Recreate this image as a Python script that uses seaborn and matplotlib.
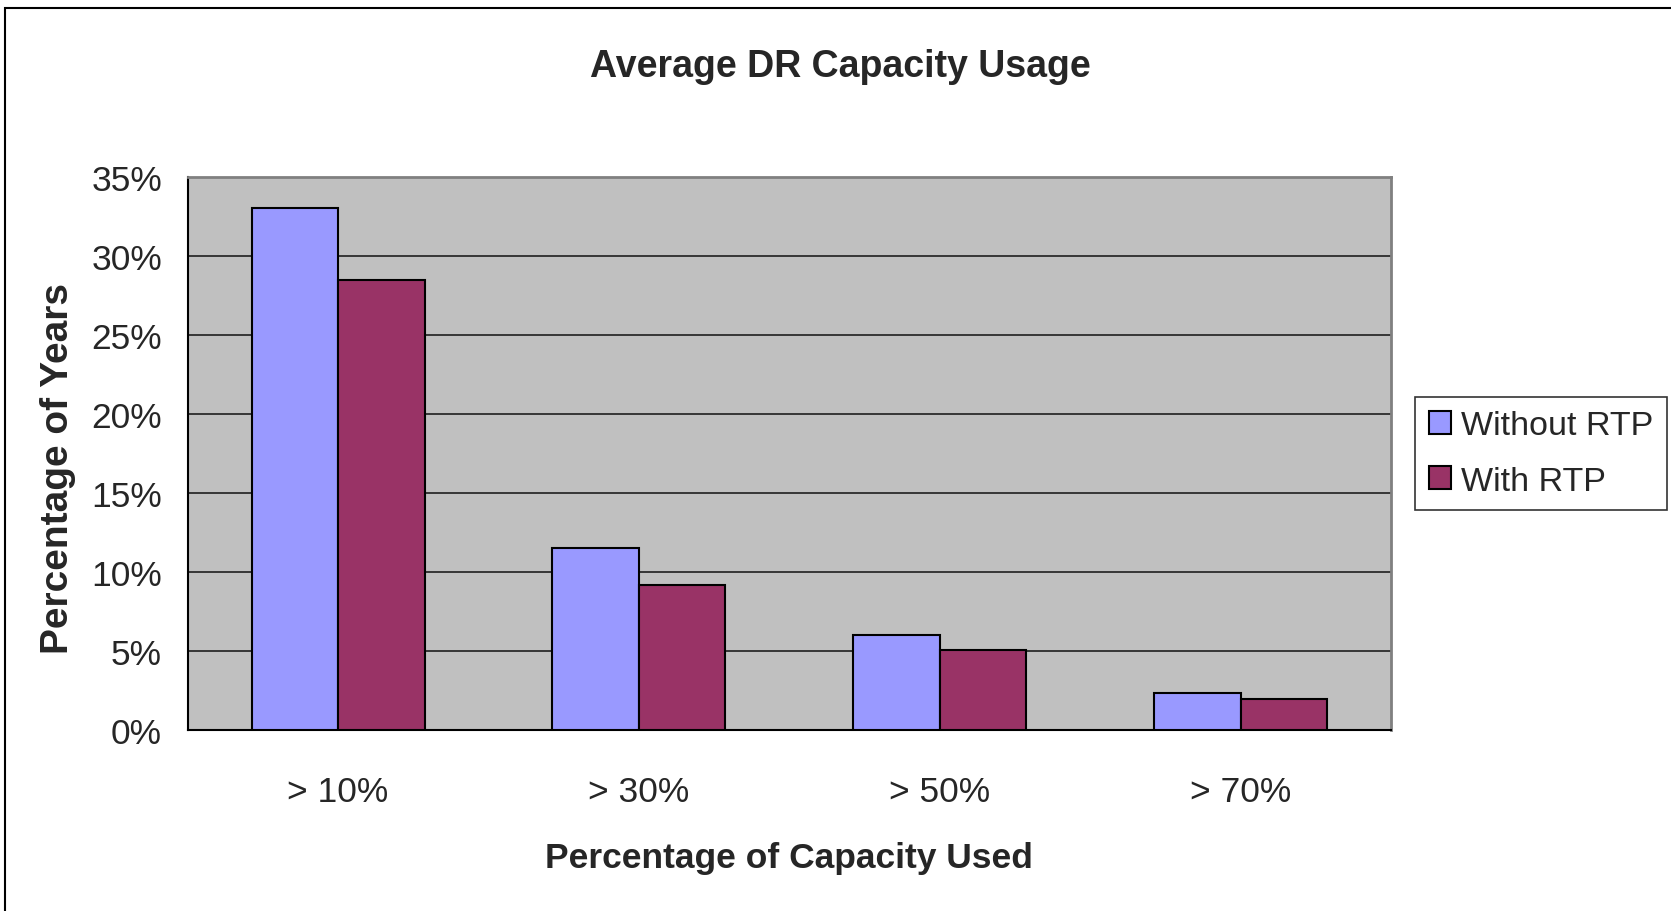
import pandas as pd
import matplotlib
matplotlib.use("Agg")
import matplotlib.pyplot as plt
import matplotlib.ticker as mticker
from matplotlib.patches import Rectangle
import seaborn as sns

# values (percent of years)
categories = ["> 10%", "> 30%", "> 50%", "> 70%"]
without_rtp = [33.0, 11.5, 6.0, 2.35]
with_rtp = [28.5, 9.2, 5.05, 1.95]
series_names = ["Without RTP", "With RTP"]
y_ticks = [0, 5, 10, 15, 20, 25, 30, 35]

df = pd.DataFrame({
    "category": categories * 2,
    "value": without_rtp + with_rtp,
    "series": [series_names[0]] * 4 + [series_names[1]] * 4,
})

sns.set_style("white")
plt.rcParams["font.family"] = ["Liberation Sans", "DejaVu Sans"]

fig = plt.figure(figsize=(16.71, 9.12), dpi=100)
ax = fig.add_axes([0.1123, 0.1984, 0.7201, 0.6066])

sns.barplot(data=df, x="category", y="value", hue="series", ax=ax,
            palette=["#9999FF", "#993366"], width=0.575,
            edgecolor="black", linewidth=1.5, saturation=1, zorder=3)

ax.set_facecolor("#C0C0C0")
ax.set_xlim(-0.5, 3.5)
ax.set_ylim(0, 35)
ax.set_yticks(y_ticks)
ax.yaxis.set_major_formatter(mticker.FuncFormatter(lambda v, p: f"{v:.0f}%"))
ax.grid(axis="y", color="#2b2b2b", linewidth=1.3, zorder=0)
ax.set_axisbelow(True)

# Excel-style category ticks between groups
ax.set_xticks([-0.5, 0.5, 1.5, 2.5, 3.5], minor=True)
ax.tick_params(axis="x", which="major", length=0, pad=32, labelsize=25.5)
ax.tick_params(axis="x", which="minor", length=7.5, width=1.2, color="black", direction="out")
ax.tick_params(axis="y", length=7.5, width=1.2, color="black", direction="out", pad=11, labelsize=25.5)

for side in ["top", "right"]:
    ax.spines[side].set_color("#808080")
    ax.spines[side].set_linewidth(2)
for side in ["left", "bottom"]:
    ax.spines[side].set_color("black")
    ax.spines[side].set_linewidth(1.5)

ax.set_xlabel("Percentage of Capacity Used", fontsize=25.5, fontweight="bold", labelpad=24)
ax.set_ylabel("Percentage of Years", fontsize=28, fontweight="bold")
ax.yaxis.set_label_coords(-0.093, 0.474)
fig.text(0.5027, 0.927, "Average DR Capacity Usage", fontsize=27, fontweight="bold",
         ha="center", va="center")

leg = ax.legend(title=None, loc="center left", bbox_to_anchor=(1.02, 0.5), fontsize=24.5,
                frameon=True, fancybox=False, edgecolor="black", handlelength=0.65,
                handleheight=0.65, handletextpad=0.3, borderpad=0.4, labelspacing=0.72,
                borderaxespad=0)
leg.get_frame().set_linewidth(1.2)

# outer chart frame
fig.patches.append(Rectangle((5 / 1671, -0.01), 1.2, 1 - 9 / 912 + 0.01,
                             transform=fig.transFigure, fill=False,
                             edgecolor="black", linewidth=1.5))

fig.savefig("out.png", dpi=100)
